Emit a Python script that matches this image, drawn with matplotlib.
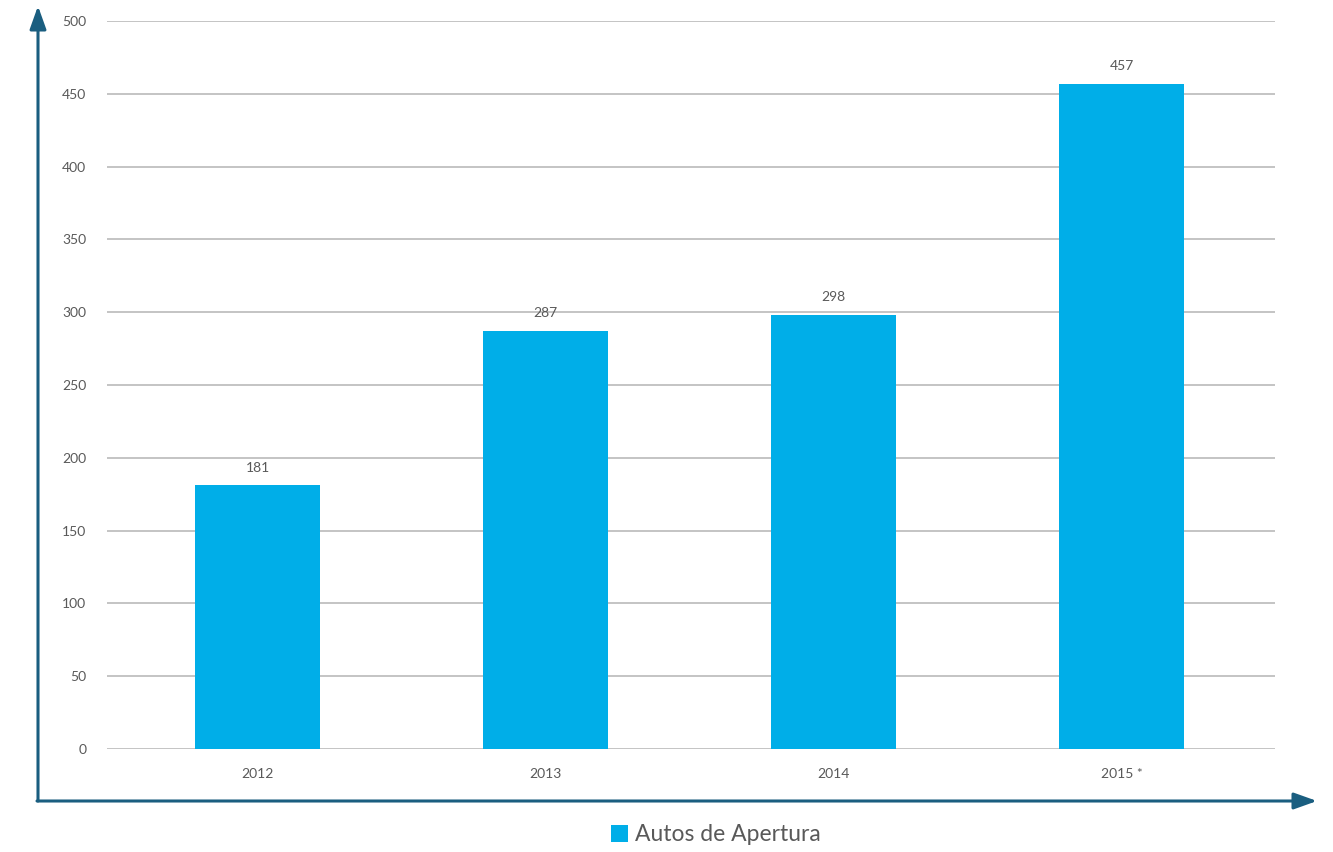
#!/usr/bin/env python3

import matplotlib.pyplot as plt
from matplotlib.patches import Patch

years = ["2012", "2013", "2014", "2015 *"]
autos = [181, 287, 298, 457]
series_name = "Autos de Apertura"

BAR = "#00aee8"
ARROW = "#1a5e80"
GRID = "#bfbfbf"
TEXT = "#595959"

def main():
    plt.rcParams['font.family'] = ['Lato', 'DejaVu Sans']
    fig = plt.figure(figsize=(13.33, 8.52), dpi=100)
    ax = fig.add_axes([0.0803, 0.1209, 0.8762, 0.8545])

    x = range(len(years))
    bars = ax.bar(x, autos, width=0.434, color=BAR, zorder=3)
    for b, v in zip(bars, autos):
        ax.text(b.get_x() + b.get_width() / 2, v + 8, str(v),
                ha="center", va="bottom", fontsize=10, color=TEXT)

    ax.set_xlim(-0.523, len(years) - 0.467)
    ax.set_ylim(0, 500)
    ax.set_yticks(range(0, 501, 50))
    ax.set_xticks(list(x))
    ax.set_xticklabels(years)
    ax.tick_params(axis="both", length=0, labelsize=10, labelcolor=TEXT)
    ax.tick_params(axis="y", pad=15)
    ax.tick_params(axis="x", pad=14)
    ax.yaxis.grid(True, color=GRID, linewidth=1.3, zorder=0)
    ax.set_axisbelow(True)
    for s in ax.spines.values():
        s.set_visible(False)

    # decorative arrows framing the chart (figure pixels, origin bottom-left)
    H = 852
    ax.annotate("", xy=(38, H - 6), xytext=(38, H - 801),
                xycoords="figure pixels", textcoords="figure pixels",
                arrowprops=dict(arrowstyle="-|>,head_length=1.4,head_width=0.5",
                                color=ARROW, lw=2.2, shrinkA=0, shrinkB=0))
    ax.annotate("", xy=(1317, H - 801), xytext=(37, H - 801),
                xycoords="figure pixels", textcoords="figure pixels",
                arrowprops=dict(arrowstyle="-|>,head_length=1.4,head_width=0.5",
                                color=ARROW, lw=2.2, shrinkA=0, shrinkB=0))

    handle = Patch(facecolor=BAR, edgecolor="none")
    fig.legend([handle], [series_name], loc="center", bbox_to_anchor=(0.537, 0.02),
               frameon=False, fontsize=16.5, labelcolor=TEXT,
               handlelength=0.75, handleheight=0.75, handletextpad=0.3)

    fig.savefig("out.png", dpi=100)

if __name__ == "__main__":
    main()
